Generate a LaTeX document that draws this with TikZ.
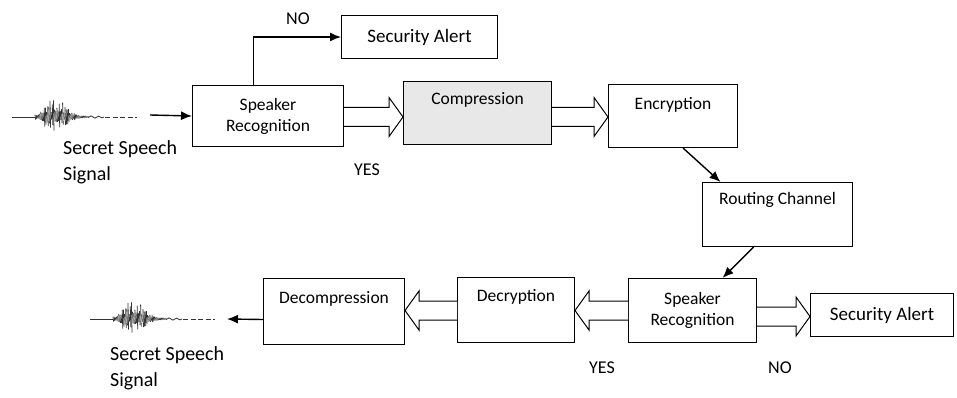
\documentclass[tikz,border=0pt]{standalone}
\usepackage{fontspec}
\setmainfont{Carlito}
\usetikzlibrary{arrows.meta,calc}

% hollow double-line arrow between two points on the same level
\newcommand{\fatarrow}[2]{%
  \draw[fat] let \p1=#1, \p2=#2, \n1={ifthenelse(\x2>\x1,1,-1)} in
    (\x1,\y1+9.5pt) -- (\x2-\n1*14pt,\y1+9.5pt) -- (\x2-\n1*14pt,\y1+19.5pt)
    -- (\x2,\y1) -- (\x2-\n1*14pt,\y1-19.5pt) -- (\x2-\n1*14pt,\y1-9.5pt)
    -- (\x1,\y1-9.5pt);}

% a short speech waveform starting at x=#1 on the level y=#2
\newcommand{\speechwave}[2]{%
  \begin{scope}[shift={(#1,#2)}]
    \draw[wave] (0,0) -- (23,0);
    \pgfmathsetseed{11}
    \foreach \k in {0,...,46}{
      \pgfmathsetmacro\xx{23+\k*1.15}
      \pgfmathsetmacro\hh{(3+16*rnd)*exp(-((\k-18)/12)^2)+1}
      \pgfmathsetmacro\dd{\hh*(0.5+0.6*rnd)}
      \draw[wave] (\xx,-\hh) -- (\xx+0.6,\dd);
    }
    \draw[wave] (77,0) .. controls (80,-4) and (82,4) .. (85,0)
      .. controls (87,-3) and (89,3) .. (92,0);
    \draw[wave, dash pattern=on 5pt off 2.5pt] (93,0) -- (125,0);
  \end{scope}}

\begin{document}
\begin{tikzpicture}[x=1pt,y=-1pt,
  box/.style={draw, line width=1pt, rectangle, inner xsep=0pt, inner ysep=0pt,
    font=\fontsize{17.5}{21}\selectfont, anchor=north west},
  fat/.style={draw, line width=1pt, fill=white, line join=miter},
  arr/.style={line width=1.4pt, -{Latex[length=11pt,width=9pt]}},
  wave/.style={line width=0.8pt, black!80},
  lbl/.style={font=\fontsize{18}{21}\selectfont},
  sig/.style={font=\fontsize{20}{26}\selectfont, align=left, anchor=north west, inner sep=0pt}]

\useasboundingbox (0,0) rectangle (957,398);

% transmitter side
\node[box, minimum width=156, minimum height=43, font=\fontsize{19}{21}\selectfont]
  (alert1) at (341,15) {Security Alert};
\node[box, minimum width=151, minimum height=61, align=center]
  (sr1) at (192,85) {Speaker\\Recognition};
\node[box, minimum width=148, text height=23pt, text depth=40pt, fill=gray!18]
  (comp) at (403,81) {Compression};
\node[box, minimum width=129, text height=25pt, text depth=38pt]
  (enc) at (608,84) {Encryption};
\node[box, minimum width=150, text height=22pt, text depth=42pt]
  (rout) at (702,182) {Routing Channel};

% receiver side
\node[box, minimum width=128, minimum height=64, align=center]
  (sr2) at (628,278) {Speaker\\Recognition};
\node[box, minimum width=143, minimum height=43, font=\fontsize{19}{21}\selectfont]
  (alert2) at (810,293) {Security Alert};
\node[box, minimum width=117, text height=24pt, text depth=41pt]
  (decr) at (457,277) {Decryption};
\node[box, minimum width=141, text height=25pt, text depth=41pt]
  (decomp) at (263,278) {Decompression};

% labels
\node[lbl] (no1) at (298,19) {NO};
\node[lbl] (yes1) at (367,170) {YES};
\node[lbl] (yes2) at (602,368) {YES};
\node[lbl] (no2) at (780,368) {NO};

% input and output signals
\speechwave{12}{117}
\coordinate (sigin) at (150,115);
\node[sig] (txt1) at (63,140) {Secret Speech\\Signal};
\speechwave{90}{319}
\coordinate (sigout) at (227,319);
\node[sig] (txt2) at (110,346) {Secret Speech\\Signal};

% connectors
\draw[arr] (sigin) -- (sr1.west);
\draw[arr] ([xshift=-14.5]sr1.north) |- (alert1.west);
\draw[arr] ([xshift=10]enc.south) -- ([xshift=-57]rout.north);
\draw[arr] ([xshift=-24]rout.south) -- ([xshift=30]sr2.north);
\draw[arr] ([yshift=-8]decomp.west) -- (sigout);

\fatarrow{(sr1.east |- 0,117)}{(comp.west |- 0,117)}
\fatarrow{(comp.east |- 0,117)}{(enc.west |- 0,117)}
\fatarrow{(sr2.east |- 0,316.5)}{(alert2.west |- 0,316.5)}
\fatarrow{(sr2.west |- 0,310.5)}{(decr.east |- 0,310.5)}
\fatarrow{(decr.west |- 0,310.5)}{(decomp.east |- 0,310.5)}

\end{tikzpicture}
\end{document}
